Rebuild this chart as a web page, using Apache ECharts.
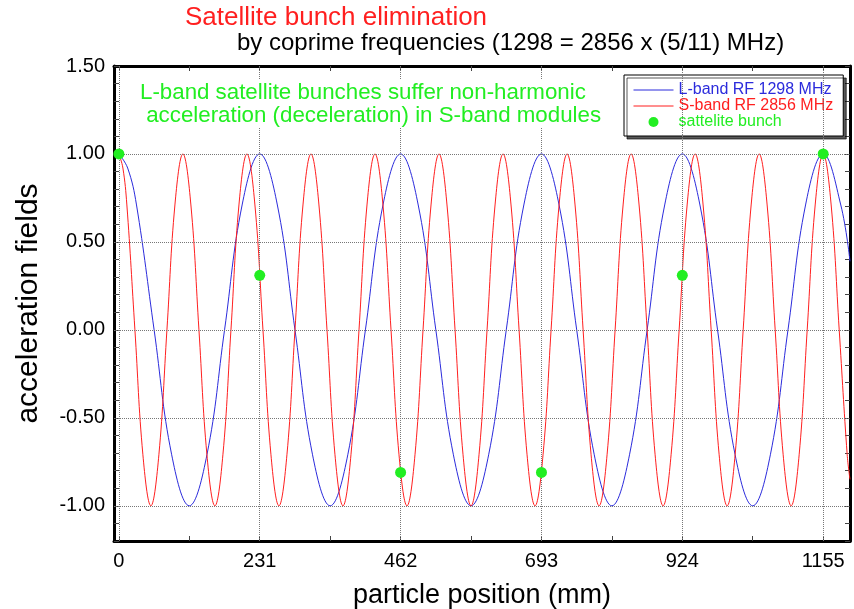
<!DOCTYPE html>
<html>
<head>
<meta charset="utf-8">
<title>Satellite bunch elimination</title>
<script src="https://cdn.jsdelivr.net/npm/echarts@6/dist/echarts.min.js"></script>
<style>
  html, body { margin: 0; padding: 0; background: #fff; }
  #main { width: 854px; height: 609px; }
</style>
</head>
<body>
<div id="main"></div>
<script>
// L-band RF 1298 MHz, read every 1/8 wavelength (231 mm)
const lbandX = [
  0, 14.4, 28.9, 57.8, 86.6, 115.5, 144.4, 173.3, 202.1,
  231, 259.9, 288.8, 317.6, 346.5, 375.4, 404.3, 433.1,
  462, 490.9, 519.8, 548.6, 577.5, 606.4, 635.3, 664.1,
  693, 721.9, 750.8, 779.6, 808.5, 837.4, 866.3, 895.1,
  924, 952.9, 981.8, 1010.6, 1039.5, 1068.4, 1097.3, 1126.1,
  1155, 1183.9, 1199
];
const lbandY = [
  1, 0.92, 0.71, 0, -0.71, -1, -0.71, 0, 0.71,
  1, 0.71, 0, -0.71, -1, -0.71, 0, 0.71,
  1, 0.71, 0, -0.71, -1, -0.71, 0, 0.71,
  1, 0.71, 0, -0.71, -1, -0.71, 0, 0.71,
  1, 0.71, 0, -0.71, -1, -0.71, 0, 0.71,
  1, 0.71, 0.39
];
// S-band RF 2856 MHz, read every 1/8 wavelength (105 mm)
const sbandX = [
  0, 6.6, 13.1, 26.3, 39.4, 52.5, 65.6, 78.8, 91.9,
  105, 118.1, 131.3, 144.4, 157.5, 170.6, 183.8, 196.9,
  210, 223.1, 236.3, 249.4, 262.5, 275.6, 288.8, 301.9,
  315, 328.1, 341.3, 354.4, 367.5, 380.6, 393.8, 406.9,
  420, 433.1, 446.3, 459.4, 472.5, 485.6, 498.8, 511.9,
  525, 538.1, 551.3, 564.4, 577.5, 590.6, 603.8, 616.9,
  630, 643.1, 656.3, 669.4, 682.5, 695.6, 708.8, 721.9,
  735, 748.1, 761.3, 774.4, 787.5, 800.6, 813.8, 826.9,
  840, 853.1, 866.3, 879.4, 892.5, 905.6, 918.8, 931.9,
  945, 958.1, 971.3, 984.4, 997.5, 1010.6, 1023.8, 1036.9,
  1050, 1063.1, 1076.3, 1089.4, 1102.5, 1115.6, 1128.8, 1141.9,
  1155, 1168.1, 1181.3, 1194.4, 1199
];
const sbandY = [
  1, 0.92, 0.71, 0, -0.71, -1, -0.71, 0, 0.71,
  1, 0.71, 0, -0.71, -1, -0.71, 0, 0.71,
  1, 0.71, 0, -0.71, -1, -0.71, 0, 0.71,
  1, 0.71, 0, -0.71, -1, -0.71, 0, 0.71,
  1, 0.71, 0, -0.71, -1, -0.71, 0, 0.71,
  1, 0.71, 0, -0.71, -1, -0.71, 0, 0.71,
  1, 0.71, 0, -0.71, -1, -0.71, 0, 0.71,
  1, 0.71, 0, -0.71, -1, -0.71, 0, 0.71,
  1, 0.71, 0, -0.71, -1, -0.71, 0, 0.71,
  1, 0.71, 0, -0.71, -1, -0.71, 0, 0.71,
  1, 0.71, 0, -0.71, -1, -0.71, 0, 0.71,
  1, 0.71, 0, -0.71, -0.85
];
// satellite bunches
const bunchX = [0, 231, 462, 693, 924, 1155];
const bunchY = [1, 0.31, -0.81, -0.81, 0.31, 1];

// tick labels / grid
const xLabelValues = [0, 231, 462, 693, 924, 1155];
const xTickValues = [0, 115.5, 231, 346.5, 462, 577.5, 693, 808.5, 924, 1039.5, 1155];
const yGridValues = [-1, -0.5, 0, 0.5, 1];

const FONT = '"Liberation Sans", Arial, Helvetica, sans-serif';
const BLUE = '#2b2bdc';
const RED = '#ff1f1f';
const GREEN = '#22ee22';

function zip(xs, ys) {
  return xs.map((x, i) => [x, ys[i]]);
}

const chart = echarts.init(document.getElementById('main'));

const tickStyle = { inside: true, length: 5, lineStyle: { color: '#444', width: 1 } };

const option = {
  backgroundColor: '#fff',
  animation: false,
  textStyle: { fontFamily: FONT },
  grid: { left: 114, right: 4, top: 66, bottom: 68, containLabel: false, outerBoundsMode: 'none' },
  legend: {
    orient: 'vertical',
    left: 624,
    top: 75,
    padding: [7, 10, 6, 9],
    itemWidth: 40,
    itemHeight: 10,
    itemGap: 0,
    backgroundColor: '#fff',
    borderColor: '#000',
    borderWidth: 1,
    shadowColor: 'rgba(0,0,0,0.65)',
    shadowOffsetX: 3,
    shadowOffsetY: 3,
    shadowBlur: 0,
    selectedMode: false,
    textStyle: { fontFamily: FONT, fontSize: 16, lineHeight: 15 },
    data: [
      { name: 'L-band RF 1298 MHz', itemStyle: { opacity: 0 }, lineStyle: { width: 1 }, textStyle: { color: BLUE } },
      { name: 'S-band RF 2856 MHz', itemStyle: { opacity: 0 }, lineStyle: { width: 1 }, textStyle: { color: RED } },
      { name: 'sattelite bunch', icon: 'circle', itemStyle: { opacity: 1 }, textStyle: { color: GREEN } }
    ]
  },
  xAxis: [
    {
      type: 'value',
      min: -8,
      max: 1199,
      position: 'bottom',
      name: 'particle position (mm)',
      nameLocation: 'middle',
      nameGap: 41,
      nameTextStyle: { fontFamily: FONT, fontSize: 27, color: '#000' },
      axisLine: { onZero: false, lineStyle: { color: '#000', width: 3 } },
      axisTick: Object.assign({ customValues: xTickValues }, tickStyle),
      axisLabel: {
        customValues: xLabelValues,
        margin: 10,
        fontSize: 20,
        color: '#000',
        fontFamily: FONT,
        formatter: v => String(v)
      },
      splitLine: { show: false }
    },
    {
      type: 'value',
      min: -8,
      max: 1199,
      position: 'top',
      axisLine: { onZero: false, lineStyle: { color: '#000', width: 3 } },
      axisTick: Object.assign({ customValues: xTickValues }, tickStyle),
      axisLabel: { show: false },
      splitLine: { show: false }
    }
  ],
  yAxis: [
    {
      type: 'value',
      min: -1.2,
      max: 1.5,
      interval: 0.1,
      position: 'left',
      name: 'acceleration fields',
      nameLocation: 'middle',
      nameGap: 70,
      nameTextStyle: { fontFamily: FONT, fontSize: 30, color: '#000' },
      axisLine: { onZero: false, lineStyle: { color: '#000', width: 3 } },
      axisTick: tickStyle,
      axisLabel: {
        margin: 9,
        fontSize: 20,
        color: '#000',
        fontFamily: FONT,
        formatter: v => Math.abs(v * 2 - Math.round(v * 2)) < 1e-6 ? v.toFixed(2) : ''
      },
      splitLine: { show: false }
    },
    {
      type: 'value',
      min: -1.2,
      max: 1.5,
      interval: 0.1,
      position: 'right',
      axisLine: { onZero: false, lineStyle: { color: '#000', width: 3 } },
      axisTick: tickStyle,
      axisLabel: { show: false },
      splitLine: { show: false }
    }
  ],
  graphic: [
    {
      type: 'text', left: 185, top: 5, z: 100,
      style: { text: 'Satellite bunch elimination', fill: RED, font: '26px ' + FONT }
    },
    {
      type: 'text', left: 237, top: 31, z: 100,
      style: { text: 'by coprime frequencies (1298 = 2856 x (5/11) MHz)', fill: '#000', font: '24px ' + FONT }
    },
    {
      type: 'text', left: 137, top: 80, z: 100,
      style: {
        text: 'L-band satellite bunches suffer non-harmonic\n acceleration (deceleration) in S-band modules',
        fill: GREEN,
        font: '22.3px ' + FONT,
        lineHeight: 23,
        backgroundColor: '#fff',
        padding: [1, 3]
      }
    }
  ],
  series: [
    {
      name: 'grid',
      type: 'line',
      data: [],
      z: 1,
      silent: true,
      markLine: {
        silent: true,
        symbol: 'none',
        label: { show: false },
        lineStyle: { color: '#777', width: 1, type: [1, 1] },
        data: xLabelValues.map(v => ({ xAxis: v })).concat(yGridValues.map(v => ({ yAxis: v })))
      }
    },
    {
      name: 'L-band RF 1298 MHz',
      type: 'line',
      data: zip(lbandX, lbandY),
      symbol: 'none',
      smooth: 0.4,
      z: 2,
      lineStyle: { color: BLUE, width: 1 },
      itemStyle: { color: BLUE }
    },
    {
      name: 'S-band RF 2856 MHz',
      type: 'line',
      data: zip(sbandX, sbandY),
      symbol: 'none',
      smooth: 0.4,
      z: 3,
      lineStyle: { color: RED, width: 1 },
      itemStyle: { color: RED }
    },
    {
      name: 'sattelite bunch',
      type: 'scatter',
      data: zip(bunchX, bunchY),
      symbolSize: 11,
      z: 5,
      itemStyle: { color: GREEN, opacity: 1 }
    }
  ]
};

chart.setOption(option);
</script>
</body>
</html>
